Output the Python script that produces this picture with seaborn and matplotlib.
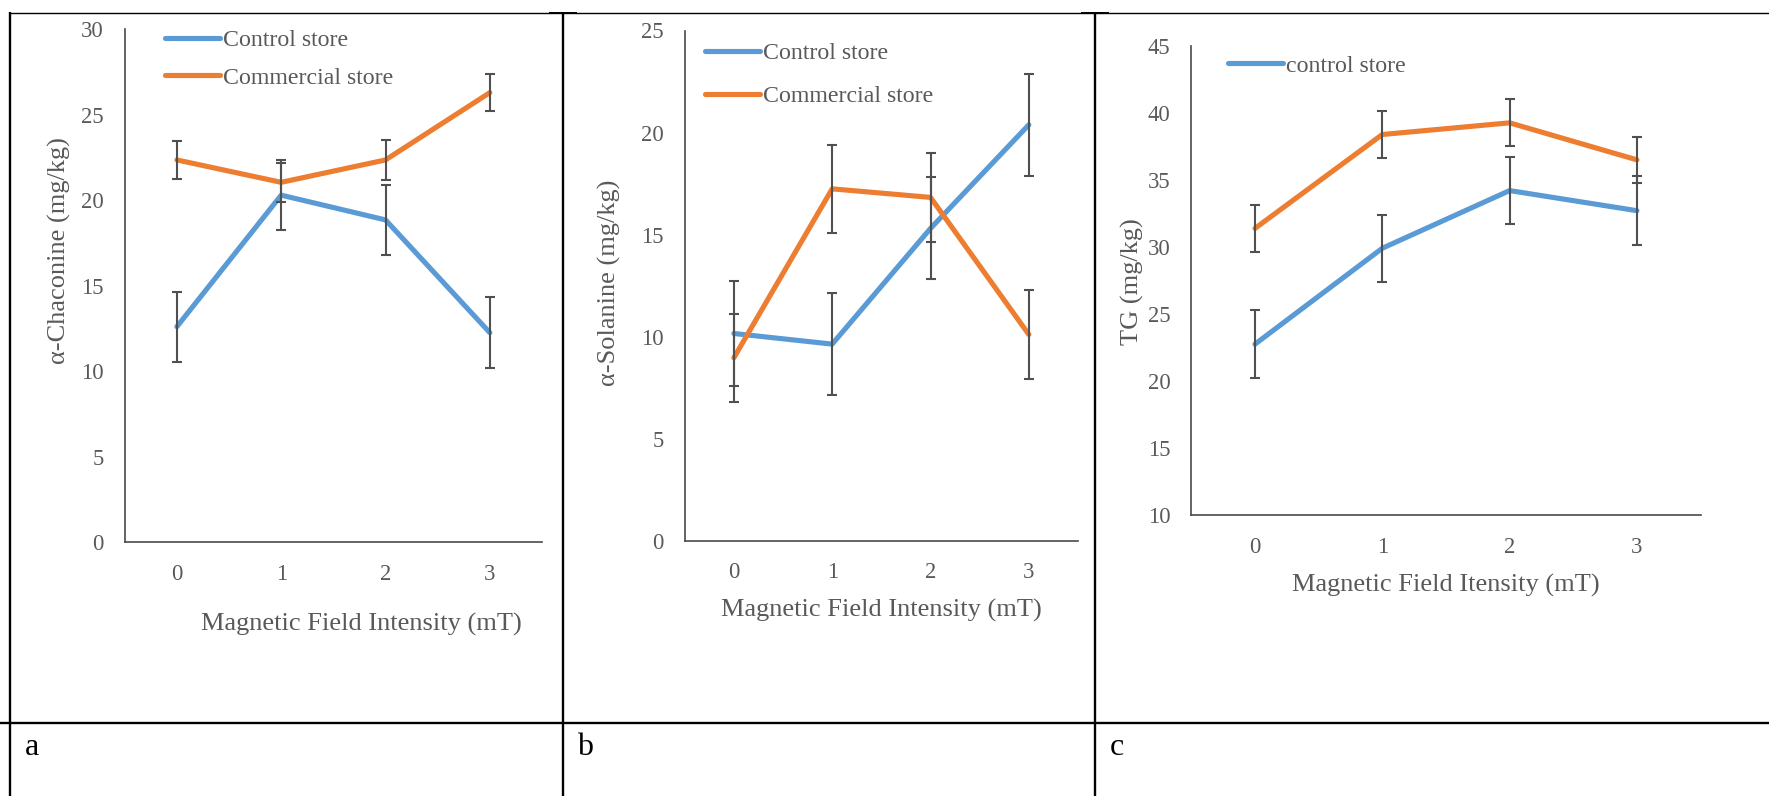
import numpy as np
import pandas as pd
import matplotlib
matplotlib.use('Agg')
import matplotlib.pyplot as plt
import seaborn as sns
from matplotlib.lines import Line2D

# ---------------- data ----------------
x_levels = [0, 1, 2, 3]
x_tick_labels = ['0', '1', '2', '3']

series_ab = ['Control store', 'Commercial store']
series_c = ['control store', 'commercial store']

a_control = [12.6, 20.3, 18.85, 12.25]
a_control_err = [2.05, 2.03, 2.05, 2.07]
a_commercial = [22.36, 21.05, 22.36, 26.3]
a_commercial_err = [1.13, 1.15, 1.15, 1.1]

b_control = [10.15, 9.63, 15.3, 20.38]
b_control_err = [2.55, 2.5, 2.5, 2.5]
b_commercial = [8.96, 17.24, 16.82, 10.1]
b_commercial_err = [2.17, 2.15, 2.2, 2.17]

c_control = [22.75, 29.9, 34.2, 32.7]
c_control_err = [2.55, 2.5, 2.5, 2.57]
c_commercial = [31.38, 38.38, 39.25, 36.49]
c_commercial_err = [1.73, 1.74, 1.76, 1.7]

a_yticks = [0, 5, 10, 15, 20, 25, 30]
b_yticks = [0, 5, 10, 15, 20, 25]
c_yticks = [10, 15, 20, 25, 30, 35, 40, 45]

a_ylabel = 'α-Chaconine (mg/kg)'
b_ylabel = 'α-Solanine (mg/kg)'
c_ylabel = 'TG (mg/kg)'
a_xlabel = 'Magnetic Field Intensity (mT)'
b_xlabel = 'Magnetic Field Intensity (mT)'
c_xlabel = 'Magnetic Field Itensity (mT)'
panel_letters = ['a', 'b', 'c']

# ---------------- style ----------------
sns.set_style('white')
plt.rcParams['font.family'] = ['Liberation Serif', 'DejaVu Serif']
plt.rcParams['mathtext.fontset'] = 'stix'

BLUE = '#5B9BD5'
ORANGE = '#ED7D31'
GREY = '#595959'
SPINE = '#4a4a4a'
ERR = '#505050'

W, H = 1769, 796
fig = plt.figure(figsize=(W / 100, H / 100), dpi=100)
fig.patch.set_facecolor('white')


def px_axes(left, top, right, bottom):
    return fig.add_axes([left / W, 1 - bottom / H, (right - left) / W, (bottom - top) / H])


def draw_panel(ax, ctrl, ctrl_err, comm, comm_err, names, yticks, ylabel, xlabel,
               legend_anchor, labelspacing, legend_n, xlabel_pos, ylabel_pos):
    df = pd.DataFrame({
        'x': x_levels * 2,
        'value': list(ctrl) + list(comm),
        'series': [names[0]] * len(x_levels) + [names[1]] * len(x_levels),
    })
    sns.lineplot(data=df, x='x', y='value', hue='series', hue_order=names,
                 palette=[BLUE, ORANGE], linewidth=3.7, ax=ax, legend=False,
                 errorbar=None, solid_capstyle='round', solid_joinstyle='round')
    lines = list(ax.lines)
    for vals, errs in ((ctrl, ctrl_err), (comm, comm_err)):
        ax.errorbar(x_levels, vals, yerr=errs, fmt='none', ecolor=ERR,
                    elinewidth=1.5, capsize=3.8, capthick=1.5, zorder=4)
    ax.set_xlim(-0.5, 3.5)
    ax.set_ylim(yticks[0], yticks[-1])
    ax.set_yticks(yticks)
    ax.set_xticks(x_levels)
    ax.set_xticklabels(x_tick_labels)
    ax.tick_params(length=0, labelsize=16.3, labelcolor=GREY)
    ax.tick_params(axis='y', pad=15)
    ax.tick_params(axis='x', pad=15.6)
    for s in ('top', 'right'):
        ax.spines[s].set_visible(False)
    for s in ('left', 'bottom'):
        ax.spines[s].set_color(SPINE)
        ax.spines[s].set_linewidth(1.2)
    ax.set_xlabel(xlabel, fontsize=19, color=GREY)
    ax.set_ylabel(ylabel, fontsize=19, color=GREY)
    ax.xaxis.set_label_coords(*xlabel_pos)
    ax.yaxis.set_label_coords(*ylabel_pos)
    leg = ax.legend(lines[:legend_n], names[:legend_n], loc='upper left',
                    bbox_to_anchor=legend_anchor, frameon=False, fontsize=17.2,
                    handlelength=2.3, handletextpad=0.13, labelspacing=labelspacing,
                    borderpad=0, borderaxespad=0)
    for t in leg.get_texts():
        t.set_color(GREY)
    ax.set_facecolor('none')


ax_a = px_axes(124.7, 29.4, 542.0, 542.0)
draw_panel(ax_a, a_control, a_control_err, a_commercial, a_commercial_err, series_ab,
           a_yticks, a_ylabel, a_xlabel, (0.0966, 1.0), 0.66, 2,
           (0.5675, -0.138), (-0.129, 0.568))

ax_b = px_axes(684.7, 30.5, 1078.0, 540.6)
draw_panel(ax_b, b_control, b_control_err, b_commercial, b_commercial_err, series_ab,
           b_yticks, b_ylabel, b_xlabel, (0.0516, 0.976), 0.89, 2,
           (0.5, -0.115), (-0.162, 0.505))

ax_c = px_axes(1191.3, 45.7, 1700.6, 515.2)
draw_panel(ax_c, c_control, c_control_err, c_commercial, c_commercial_err, series_c,
           c_yticks, c_ylabel, c_xlabel, (0.072, 0.98), 0.45, 1,
           (0.5, -0.124), (-0.093, 0.497))

# ---------------- table frame ----------------
def fline(x0, y0, x1, y1, lw):
    fig.add_artist(Line2D([x0 / W, x1 / W], [1 - y0 / H, 1 - y1 / H],
                          color='black', linewidth=lw, solid_capstyle='butt'))

fline(9.5, 12.7, W, 12.7, 1.0)
fline(0, 723, W, 723, 1.7)
for xv in (9.5, 563, 1095):
    fline(xv, 12.2, xv, H, 1.7)
for xv in (563, 1095):
    fline(xv - 14, 13.0, xv + 14, 13.0, 1.4)

letter_x = [25, 577, 1110]
for lx, letter in zip(letter_x, panel_letters):
    fig.text(lx / W, 1 - 755 / H, letter, fontsize=23, color='black',
             ha='left', va='baseline')

fig.savefig('out.png', dpi=100, facecolor='white')
